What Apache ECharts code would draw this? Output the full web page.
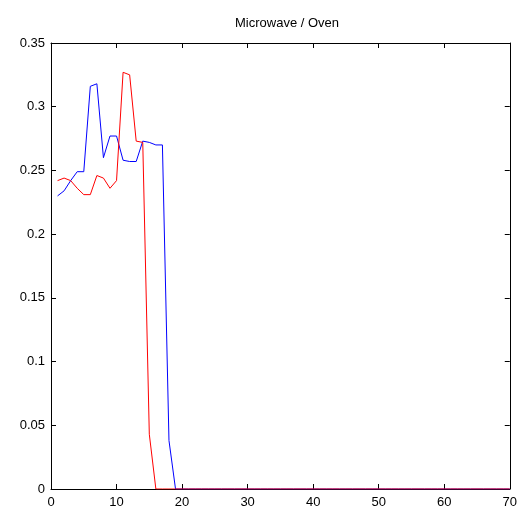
<!DOCTYPE html>
<html>
<head>
<meta charset="utf-8">
<script src="https://cdn.jsdelivr.net/npm/echarts@6/dist/echarts.min.js"></script>
<style>
  html, body { margin: 0; padding: 0; background: #fff; }
  #chart { width: 520px; height: 511px; }
</style>
</head>
<body>
<div id="chart"></div>
<script>
// x positions run 1..70
const microwave = [
  0.230, 0.234, 0.242, 0.249, 0.249, 0.316, 0.318, 0.260, 0.277, 0.277,
  0.258, 0.257, 0.257, 0.273, 0.272, 0.270, 0.270, 0.038, 0, 0,
  0, 0, 0, 0, 0, 0, 0, 0, 0, 0,
  0, 0, 0, 0, 0, 0, 0, 0, 0, 0,
  0, 0, 0, 0, 0, 0, 0, 0, 0, 0,
  0, 0, 0, 0, 0, 0, 0, 0, 0, 0,
  0, 0, 0, 0, 0, 0, 0, 0, 0, 0
];
const oven = [
  0.242, 0.244, 0.242, 0.236, 0.231, 0.231, 0.246, 0.244, 0.236, 0.242,
  0.327, 0.325, 0.273, 0.272, 0.043, 0, 0, 0, 0, 0,
  0, 0, 0, 0, 0, 0, 0, 0, 0, 0,
  0, 0, 0, 0, 0, 0, 0, 0, 0, 0,
  0, 0, 0, 0, 0, 0, 0, 0, 0, 0,
  0, 0, 0, 0, 0, 0, 0, 0, 0, 0,
  0, 0, 0, 0, 0, 0, 0, 0, 0, 0
];
const title = 'Microwave / Oven';

const toPoints = (arr) => arr.map((v, i) => [i + 1, v]);

const chart = echarts.init(document.getElementById('chart'));
const axisLine = { show: true, onZero: false, lineStyle: { color: '#000', width: 1 } };
const tick = { show: true, inside: true, length: 5, lineStyle: { color: '#000' } };
const font = 'Liberation Sans';

chart.setOption({
  animation: false,
  title: {
    text: title,
    left: 282,
    top: 12,
    textAlign: 'center',
    textStyle: { fontFamily: font, fontSize: 13, fontWeight: 'normal', color: '#000' }
  },
  grid: { left: 51, right: 7, top: 43, bottom: 22 },
  xAxis: [
    {
      type: 'value', min: 0, max: 70, interval: 10,
      axisLine: axisLine, axisTick: tick, splitLine: { show: false },
      axisLabel: { color: '#000', fontFamily: font, fontSize: 13, margin: 7 }
    },
    {
      type: 'value', position: 'top', min: 0, max: 70, interval: 10,
      axisLine: axisLine, axisTick: tick, splitLine: { show: false },
      axisLabel: { show: false }
    }
  ],
  yAxis: [
    {
      type: 'value', min: 0, max: 0.35, interval: 0.05,
      axisLine: axisLine, axisTick: tick, splitLine: { show: false },
      axisLabel: { color: '#000', fontFamily: font, fontSize: 13, margin: 6 }
    },
    {
      type: 'value', position: 'right', min: 0, max: 0.35, interval: 0.05,
      axisLine: axisLine, axisTick: tick, splitLine: { show: false },
      axisLabel: { show: false }
    }
  ],
  series: [
    {
      name: 'Microwave', type: 'line', data: toPoints(microwave),
      showSymbol: false, lineStyle: { color: '#0000ff', width: 1 }, itemStyle: { color: '#0000ff' }
    },
    {
      name: 'Oven', type: 'line', data: toPoints(oven),
      showSymbol: false, lineStyle: { color: '#ff0000', width: 1 }, itemStyle: { color: '#ff0000' }
    }
  ]
});
</script>
</body>
</html>
